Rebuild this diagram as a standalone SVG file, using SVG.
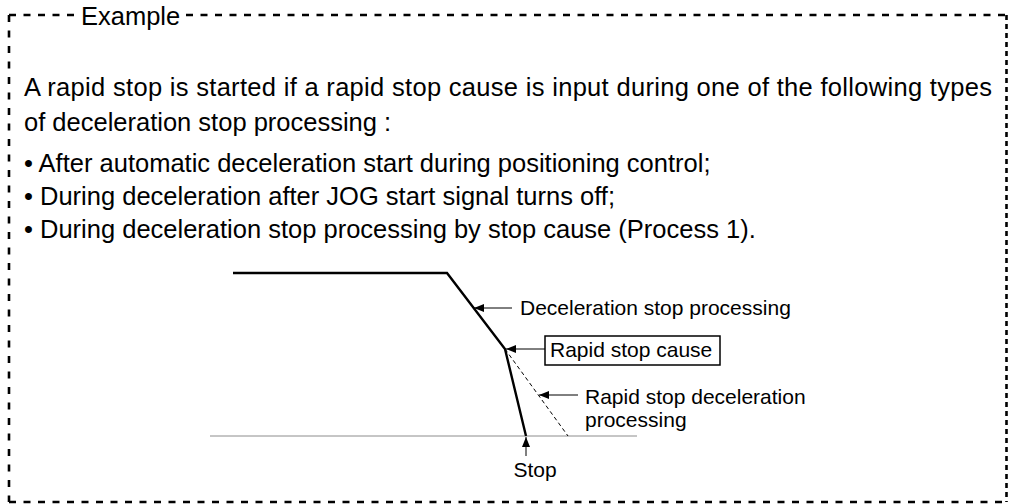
<svg xmlns="http://www.w3.org/2000/svg" width="1010" height="504" viewBox="0 0 1010 504">
  <style>
    .main { font-family: "Liberation Sans", Arial, sans-serif; font-size: 25.5px; fill: #000; }
    .lbl { font-family: "Liberation Sans", Arial, sans-serif; font-size: 21px; fill: #000; }
    .border { stroke: #000; stroke-width: 2.6; fill: none; }
    .thick { stroke: #000; stroke-width: 2.4; fill: none; stroke-linejoin: miter; }
    .thin { stroke: #000; stroke-width: 1; fill: none; }
  </style>
  <defs>
    <marker id="arr" viewBox="0 0 10 8" refX="10" refY="4" markerWidth="10" markerHeight="8" markerUnits="userSpaceOnUse" orient="auto">
      <path d="M0,0 L10,4 L0,8 Z" fill="#000"/>
    </marker>
  </defs>
  <rect width="1010" height="504" fill="#fff"/>

  <g id="frame">
    <line class="border" x1="9" y1="15" x2="78" y2="15" stroke-dasharray="7 7.5"/>
    <line class="border" x1="186" y1="15" x2="1006.5" y2="15" stroke-dasharray="7 7.5"/>
    <line class="border" x1="9" y1="15" x2="9" y2="502" stroke-dasharray="7 8.5"/>
    <line class="border" x1="1006.5" y1="15" x2="1006.5" y2="502" stroke-dasharray="5 4"/>
    <line class="border" x1="9" y1="502" x2="1006.5" y2="502" stroke-dasharray="7 7.5"/>
    <text class="main" x="81" y="25">Example</text>
  </g>

  <g id="description">
    <text class="main" x="24" y="96" textLength="968" lengthAdjust="spacing">A rapid stop is started if a rapid stop cause is input during one of the following types</text>
    <text class="main" x="24" y="131">of deceleration stop processing :</text>
    <text class="main" x="24" y="171.5">• After automatic deceleration start during positioning control;</text>
    <text class="main" x="24" y="204.5">• During deceleration after JOG start signal turns off;</text>
    <text class="main" x="24" y="237.5">• During deceleration stop processing by stop cause (Process 1).</text>
  </g>

  <g id="speed-curve">
    <line x1="210" y1="436" x2="637" y2="436" stroke="#8c8c8c" stroke-width="1"/>
    <polyline class="thick" points="233,273 447,273 505,349 526,436"/>
    <line class="thin" x1="505" y1="349" x2="568" y2="436" stroke-dasharray="4 3"/>
  </g>

  <g id="label-decel">
    <text class="lbl" x="520" y="315">Deceleration stop processing</text>
  </g>
  <g id="label-cause">
    <rect x="545" y="336" width="175" height="29" fill="none" stroke="#000" stroke-width="1.5"/>
    <text class="lbl" x="550" y="357">Rapid stop cause</text>
  </g>
  <g id="label-rapid">
    <text class="lbl" x="585" y="404">Rapid stop deceleration</text>
    <text class="lbl" x="585" y="427">processing</text>
  </g>
  <g id="label-stop">
    <text class="lbl" x="535" y="477" text-anchor="middle">Stop</text>
  </g>

  <g id="connectors">
    <line class="thin" x1="512" y1="308" x2="474" y2="308" marker-end="url(#arr)"/>
    <line class="thin" x1="545" y1="349" x2="506" y2="349" marker-end="url(#arr)"/>
    <line class="thin" x1="578" y1="395" x2="539" y2="395" marker-end="url(#arr)"/>
    <line class="thin" x1="526" y1="456" x2="526" y2="437" marker-end="url(#arr)"/>
  </g>
</svg>
